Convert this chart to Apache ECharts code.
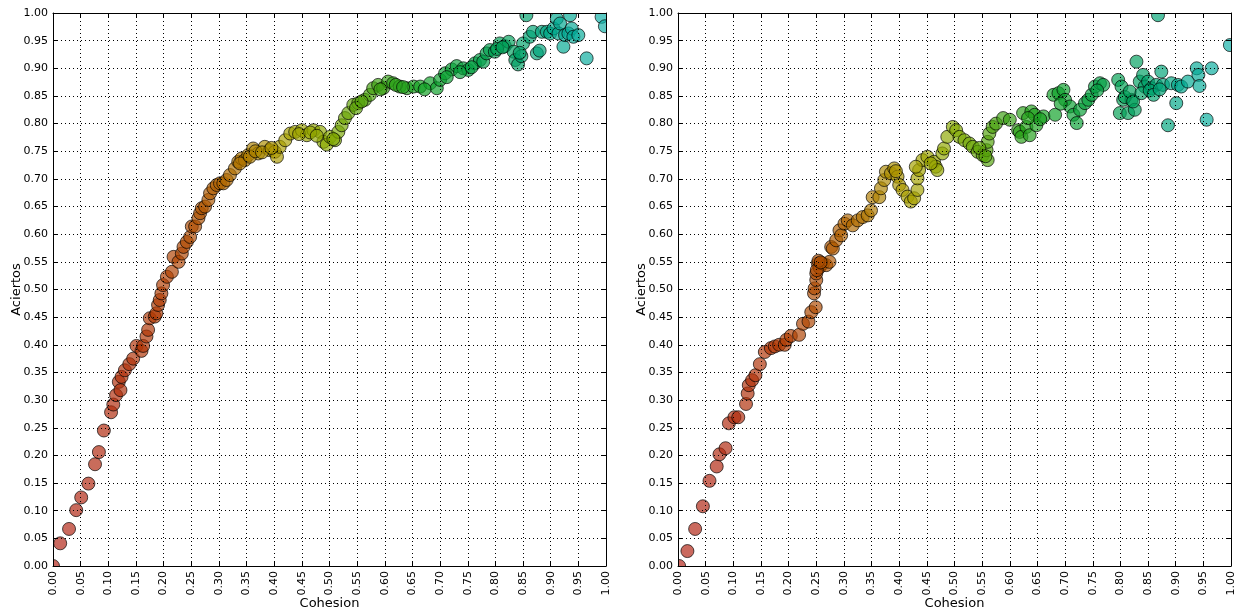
<!DOCTYPE html>
<html>
<head>
<meta charset="utf-8">
<script src="https://cdn.jsdelivr.net/npm/echarts@6/dist/echarts.min.js"></script>
<style>
  html, body { margin: 0; padding: 0; background: #fff; }
  #chart { width: 1237px; height: 612px; }
</style>
</head>
<body>
<div id="chart"></div>
<script>
// Panel A: cohesion vs. hits
const cohesionA = [
  0.000, 0.013, 0.029, 0.042, 0.051, 0.064, 0.076, 0.083, 0.092, 0.105,
  0.109, 0.114, 0.119, 0.122, 0.124, 0.130, 0.138, 0.145, 0.151, 0.160,
  0.163, 0.169, 0.172, 0.175, 0.184, 0.187, 0.190, 0.193, 0.196, 0.199,
  0.206, 0.215, 0.218, 0.227, 0.233, 0.236, 0.242, 0.248, 0.251, 0.257,
  0.263, 0.266, 0.269, 0.275, 0.281, 0.284, 0.290, 0.296, 0.302, 0.308,
  0.314, 0.320, 0.329, 0.335, 0.341, 0.347, 0.353, 0.362, 0.371, 0.383,
  0.392, 0.401, 0.405, 0.410, 0.420, 0.429, 0.438, 0.450, 0.459, 0.471,
  0.483, 0.489, 0.495, 0.501, 0.510, 0.516, 0.522, 0.528, 0.534, 0.543,
  0.552, 0.564, 0.573, 0.579, 0.588, 0.597, 0.606, 0.615, 0.627, 0.640,
  0.652, 0.664, 0.682, 0.694, 0.700, 0.709, 0.721, 0.730, 0.742, 0.751,
  0.763, 0.772, 0.778, 0.784, 0.790, 0.799, 0.808, 0.817, 0.824, 0.833,
  0.836, 0.841, 0.847, 0.850, 0.856, 0.862, 0.868, 0.875, 0.884, 0.893,
  0.899, 0.905, 0.911, 0.914, 0.917, 0.923, 0.926, 0.932, 0.935, 0.938,
  0.941, 0.950, 0.965, 0.992, 0.998,
  0.338, 0.356, 0.366, 0.378, 0.395, 0.445, 0.465, 0.477, 0.507, 0.548,
  0.558, 0.592, 0.620, 0.633, 0.672, 0.712, 0.736, 0.757, 0.803, 0.813,
  0.844, 0.880
];
const aciertosA = [
  0.000, 0.041, 0.067, 0.101, 0.124, 0.149, 0.184, 0.206, 0.245, 0.278,
  0.292, 0.309, 0.333, 0.318, 0.342, 0.354, 0.365, 0.375, 0.398, 0.389,
  0.398, 0.415, 0.427, 0.448, 0.451, 0.457, 0.472, 0.481, 0.493, 0.508,
  0.523, 0.532, 0.559, 0.550, 0.565, 0.577, 0.586, 0.595, 0.614, 0.614,
  0.629, 0.638, 0.647, 0.650, 0.662, 0.674, 0.683, 0.689, 0.692, 0.692,
  0.698, 0.707, 0.719, 0.731, 0.737, 0.734, 0.743, 0.755, 0.746, 0.758,
  0.752, 0.749, 0.740, 0.758, 0.770, 0.782, 0.785, 0.788, 0.779, 0.788,
  0.785, 0.767, 0.762, 0.776, 0.770, 0.785, 0.797, 0.810, 0.819, 0.834,
  0.837, 0.843, 0.852, 0.864, 0.870, 0.864, 0.876, 0.873, 0.867, 0.864,
  0.867, 0.867, 0.873, 0.864, 0.879, 0.891, 0.898, 0.904, 0.900, 0.897,
  0.909, 0.915, 0.912, 0.927, 0.933, 0.930, 0.945, 0.940, 0.948, 0.930,
  0.915, 0.907, 0.922, 0.945, 0.996, 0.957, 0.966, 0.927, 0.966, 0.966,
  0.963, 0.972, 0.990, 0.963, 0.981, 0.939, 0.960, 0.963, 0.996, 0.972,
  0.957, 0.960, 0.918, 0.993, 0.976,
  0.728, 0.740, 0.750, 0.748, 0.756, 0.781, 0.784, 0.778, 0.772, 0.828,
  0.840, 0.862, 0.870, 0.866, 0.862, 0.884, 0.893, 0.902, 0.935, 0.938,
  0.928, 0.932
];

// Panel B: cohesion vs. hits
const cohesionB = [
  0.002, 0.017, 0.031, 0.045, 0.057, 0.070, 0.075, 0.086, 0.092, 0.102,
  0.109, 0.123, 0.126, 0.128, 0.134, 0.140, 0.148, 0.157, 0.168, 0.175,
  0.183, 0.193, 0.196, 0.204, 0.219, 0.226, 0.236, 0.241, 0.249, 0.246,
  0.247, 0.250, 0.250, 0.253, 0.256, 0.262, 0.268, 0.274, 0.277, 0.280,
  0.286, 0.292, 0.295, 0.301, 0.307, 0.316, 0.325, 0.334, 0.343, 0.349,
  0.352, 0.364, 0.367, 0.373, 0.376, 0.385, 0.391, 0.397, 0.400, 0.406,
  0.415, 0.421, 0.427, 0.433, 0.433, 0.436, 0.442, 0.451, 0.463, 0.466,
  0.469, 0.478, 0.481, 0.487, 0.497, 0.503, 0.509, 0.518, 0.527, 0.533,
  0.542, 0.551, 0.560, 0.558, 0.560, 0.563, 0.569, 0.575, 0.588, 0.600,
  0.615, 0.618, 0.621, 0.624, 0.630, 0.636, 0.639, 0.645, 0.648, 0.661,
  0.682, 0.679, 0.688, 0.697, 0.700, 0.709, 0.715, 0.721, 0.727, 0.736,
  0.742, 0.748, 0.754, 0.763, 0.769, 0.796, 0.802, 0.805, 0.799, 0.814,
  0.820, 0.826, 0.829, 0.835, 0.841, 0.844, 0.850, 0.856, 0.865, 0.868,
  0.874, 0.877, 0.886, 0.892, 0.901, 0.904, 0.910, 0.922, 0.938, 0.941,
  0.943, 0.956, 0.965, 0.998,
  0.251, 0.254, 0.258, 0.394, 0.430, 0.457, 0.545, 0.556, 0.633, 0.655,
  0.692, 0.758, 0.808, 0.817, 0.823, 0.838, 0.853, 0.860, 0.871
];
const aciertosB = [
  0.000, 0.027, 0.067, 0.108, 0.154, 0.180, 0.202, 0.213, 0.258, 0.269,
  0.269, 0.293, 0.312, 0.327, 0.336, 0.345, 0.365, 0.387, 0.394, 0.397,
  0.400, 0.400, 0.409, 0.416, 0.418, 0.438, 0.442, 0.459, 0.468, 0.493,
  0.502, 0.517, 0.529, 0.547, 0.540, 0.547, 0.544, 0.550, 0.577, 0.574,
  0.589, 0.607, 0.598, 0.619, 0.625, 0.616, 0.625, 0.631, 0.634, 0.643,
  0.667, 0.667, 0.683, 0.698, 0.713, 0.710, 0.719, 0.704, 0.689, 0.680,
  0.668, 0.659, 0.665, 0.680, 0.701, 0.716, 0.734, 0.740, 0.731, 0.722,
  0.716, 0.746, 0.755, 0.776, 0.794, 0.788, 0.776, 0.770, 0.764, 0.758,
  0.749, 0.743, 0.734, 0.752, 0.767, 0.782, 0.794, 0.800, 0.810, 0.807,
  0.788, 0.785, 0.776, 0.819, 0.794, 0.779, 0.822, 0.816, 0.797, 0.813,
  0.816, 0.852, 0.855, 0.861, 0.843, 0.831, 0.816, 0.801, 0.825, 0.837,
  0.843, 0.852, 0.867, 0.873, 0.870, 0.879, 0.867, 0.843, 0.819, 0.819,
  0.843, 0.825, 0.912, 0.876, 0.888, 0.867, 0.876, 0.864, 0.870, 0.996,
  0.894, 0.870, 0.797, 0.873, 0.837, 0.870, 0.867, 0.876, 0.900, 0.888,
  0.868, 0.807, 0.900, 0.942,
  0.535, 0.552, 0.549, 0.714, 0.722, 0.728, 0.756, 0.741, 0.810, 0.808,
  0.836, 0.860, 0.848, 0.858, 0.840, 0.855, 0.860, 0.852, 0.862
];

// Shared tick labels for both axes
const tickValues = [
  '0.00', '0.05', '0.10', '0.15', '0.20', '0.25', '0.30', '0.35', '0.40', '0.45',
  '0.50', '0.55', '0.60', '0.65', '0.70', '0.75', '0.80', '0.85', '0.90', '0.95', '1.00'
];

const xName = 'Cohesion';
const yName = 'Aciertos';

const zip = (xs, ys) => xs.map((x, i) => [x, ys[i]]);

const FONT = 'DejaVu Sans';
const labelFmt = v => {
  const s = v.toFixed(2);
  return tickValues.indexOf(s) >= 0 ? s : '';
};

// Axes sit above the markers so the dotted grid and frame are drawn on top
const AXIS_Z = 10;

function mainAxis(gridIndex, isX) {
  return {
    type: 'value',
    gridIndex,
    z: AXIS_Z,
    min: 0, max: 1, interval: 0.05,
    position: isX ? 'bottom' : 'left',
    name: isX ? xName : yName,
    nameLocation: 'middle',
    nameGap: isX ? 31 : 30,
    nameMoveOverlap: false,
    nameTextStyle: { fontFamily: FONT, fontSize: 13, color: '#000' },
    axisLine: { show: true, onZero: false, lineStyle: { color: '#000', width: 1 } },
    axisTick: { show: true, inside: true, length: 4, lineStyle: { color: '#000' } },
    axisLabel: {
      show: true, rotate: isX ? 90 : 0, margin: 5,
      fontFamily: FONT, fontSize: 11, color: '#000',
      formatter: labelFmt
    },
    splitLine: { show: true, lineStyle: { color: '#000', width: 1, type: [1, 3] } }
  };
}

function mirrorAxis(gridIndex, isX) {
  return {
    type: 'value',
    gridIndex,
    z: AXIS_Z,
    min: 0, max: 1, interval: 0.05,
    position: isX ? 'top' : 'right',
    axisLine: { show: true, onZero: false, lineStyle: { color: '#000', width: 1 } },
    axisTick: { show: true, inside: true, length: 4, lineStyle: { color: '#000' } },
    axisLabel: { show: false },
    splitLine: { show: false }
  };
}

const W = 1237, H = 612;
const plots = [
  { left: 53, top: 13, width: 553, height: 553, outerBoundsMode: 'none', containLabel: false },
  { left: 678, top: 13, width: 553, height: 553, outerBoundsMode: 'none', containLabel: false }
];

// White masks outside both plot areas, so markers are cut at the frame
const masks = [
  [0, 0, W, plots[0].top],
  [0, plots[0].top + plots[0].height, W, H - plots[0].top - plots[0].height],
  [0, 0, plots[0].left, H],
  [plots[0].left + plots[0].width, 0, plots[1].left - plots[0].left - plots[0].width, H],
  [plots[1].left + plots[1].width, 0, W - plots[1].left - plots[1].width, H]
].map(([x, y, w, h]) => ({
  type: 'rect', z: 5, silent: true,
  shape: { x, y, width: w, height: h },
  style: { fill: '#fff' }
}));

const chart = echarts.init(document.getElementById('chart'), null, { renderer: 'canvas' });

const scatterStyle = {
  type: 'scatter',
  symbol: 'circle',
  symbolSize: 13,
  clip: false,
  z: 2,
  itemStyle: { opacity: 0.68, borderColor: '#000', borderWidth: 1 },
  emphasis: { disabled: true },
  animation: false
};

chart.setOption({
  backgroundColor: '#fff',
  animation: false,
  grid: plots,
  graphic: masks,
  xAxis: [mainAxis(0, true), mainAxis(1, true), mirrorAxis(0, true), mirrorAxis(1, true)],
  yAxis: [mainAxis(0, false), mainAxis(1, false), mirrorAxis(0, false), mirrorAxis(1, false)],
  visualMap: {
    show: false,
    type: 'continuous',
    dimension: 0,
    min: 0, max: 1,
    seriesIndex: [0, 1],
    inRange: {
      color: ['#b12114', '#b0260c', '#b03404', '#ae4a00', '#b07000', '#aaa000',
              '#88aa00', '#40a010', '#10a020', '#05a040', '#00a060', '#00a890', '#10b0a8']
    }
  },
  series: [
    Object.assign({}, scatterStyle, { xAxisIndex: 0, yAxisIndex: 0, data: zip(cohesionA, aciertosA) }),
    Object.assign({}, scatterStyle, { xAxisIndex: 1, yAxisIndex: 1, data: zip(cohesionB, aciertosB) })
  ]
});
</script>
</body>
</html>
